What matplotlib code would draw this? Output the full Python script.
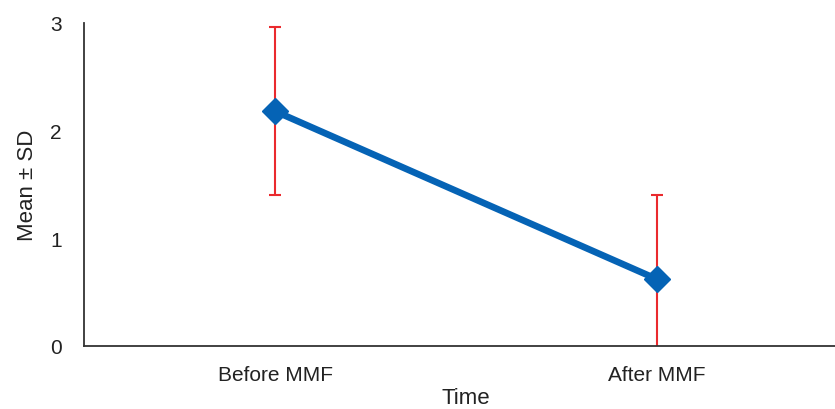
import matplotlib.pyplot as plt

# Mean and SD at each time point
times = ["Before MMF", "After MMF"]
means = [2.18, 0.62]
sds = [0.78, 0.78]

plt.rcParams['font.family'] = ['Liberation Sans', 'DejaVu Sans']

fig = plt.figure(figsize=(8.35, 4.1), dpi=100)
# axis runs past the right edge of the figure, like the category layout
ax = fig.add_axes([0.1006, 0.1537, 0.915, 0.788])

xpos = [i + 0.5 for i in range(len(times))]

# error bars first, then the line and markers on top
ax.errorbar(xpos, means, yerr=sds, fmt='none', ecolor='#EA2A2E',
            elinewidth=1.5, capsize=4.3, capthick=1.5, zorder=2)
ax.plot(xpos, means, color='#0563B5', lw=4.8, marker='D', markersize=13,
        zorder=3)

ax.set_xlim(0, 2)
ax.set_ylim(0, 3)
ax.set_yticks([0, 1, 2, 3])
ax.set_xticks(xpos)
ax.set_xticklabels(times)

for side in ['top', 'right']:
    ax.spines[side].set_visible(False)
for side in ['left', 'bottom']:
    ax.spines[side].set_color('#333333')
    ax.spines[side].set_linewidth(1.3)
    ax.spines[side].set_zorder(4)

ax.tick_params(axis='both', length=0, labelsize=15, colors='#222222')
ax.tick_params(axis='y', pad=16)
ax.tick_params(axis='x', pad=14)

ax.set_xlabel("Time", fontsize=16, color='#222222', labelpad=2)
ax.set_ylabel("Mean ± SD", fontsize=16, color='#222222', labelpad=9)

fig.savefig("out.png", dpi=100)
